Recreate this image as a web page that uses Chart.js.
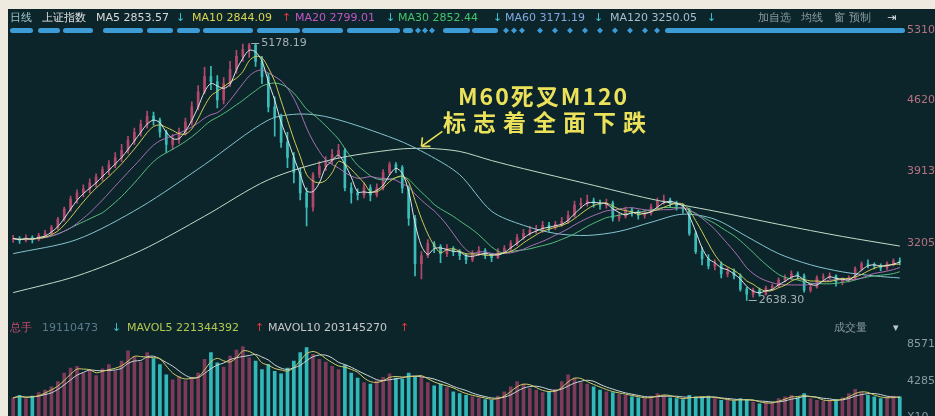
<!DOCTYPE html>
<html>
<head>
<meta charset="utf-8">
<script src="https://cdn.jsdelivr.net/npm/chart.js@4.4.0/dist/chart.umd.min.js"></script>
<style>
html, body { margin: 0; padding: 0; width: 935px; height: 416px; overflow: hidden; background: #efeadf; }
#panel { position: absolute; left: 8px; top: 9px; width: 927px; height: 420px; background: #0c252b; }
#priceBox { position: absolute; left: 0; top: 0; width: 935px; height: 326px; }
#volBox { position: absolute; left: 0; top: 330px; width: 935px; height: 98px; }
.hdr { position: absolute; font: 11px "DejaVu Sans", sans-serif; white-space: nowrap; line-height: 13px; }
.note { position: absolute; color: #ebe15a; font: bold 23px "Noto Sans CJK SC", sans-serif; line-height: 26px; white-space: nowrap; }
</style>
</head>
<body>
<div id="panel"></div>
<div id="priceBox"><canvas id="priceChart"></canvas></div>
<div id="volBox"><canvas id="volChart"></canvas></div>

<!-- price header -->
<span class="hdr" style="left:10px;top:11px;color:#9cc4cc">日线</span>
<span class="hdr" style="left:42px;top:11px;color:#e6e6e6">上证指数</span>
<span class="hdr" style="left:96px;top:11px;color:#d8d8d8">MA5 2853.57</span>
<span class="hdr" style="left:176px;top:11px;color:#3cc8d8">↓</span>
<span class="hdr" style="left:192px;top:11px;color:#dcd450">MA10 2844.09</span>
<span class="hdr" style="left:282px;top:11px;color:#e83838">↑</span>
<span class="hdr" style="left:295px;top:11px;color:#c456c4">MA20 2799.01</span>
<span class="hdr" style="left:386px;top:11px;color:#3cc8d8">↓</span>
<span class="hdr" style="left:398px;top:11px;color:#46c46a">MA30 2852.44</span>
<span class="hdr" style="left:493px;top:11px;color:#3cc8d8">↓</span>
<span class="hdr" style="left:505px;top:11px;color:#84a8e0">MA60 3171.19</span>
<span class="hdr" style="left:594px;top:11px;color:#3cc8d8">↓</span>
<span class="hdr" style="left:610px;top:11px;color:#a8bcd0">MA120 3250.05</span>
<span class="hdr" style="left:707px;top:11px;color:#3cc8d8">↓</span>
<span class="hdr" style="left:758px;top:11px;color:#8a9aa2">加自选</span>
<span class="hdr" style="left:801px;top:11px;color:#8a9aa2">均线</span>
<span class="hdr" style="left:834px;top:11px;color:#8a9aa2">窗</span>
<span class="hdr" style="left:849px;top:11px;color:#8a9aa2">预制</span>
<span class="hdr" style="left:887px;top:11px;color:#e0e6e8">⇥</span>

<!-- volume header -->
<span class="hdr" style="left:10px;top:321px;color:#c84a6a">总手</span>
<span class="hdr" style="left:42px;top:321px;color:#5a7a8c">19110473</span>
<span class="hdr" style="left:112px;top:321px;color:#3cc8d8">↓</span>
<span class="hdr" style="left:127px;top:321px;color:#b4c850">MAVOL5 221344392</span>
<span class="hdr" style="left:255px;top:321px;color:#e83838">↑</span>
<span class="hdr" style="left:268px;top:321px;color:#c8c8c8">MAVOL10 203145270</span>
<span class="hdr" style="left:400px;top:321px;color:#e83838">↑</span>
<span class="hdr" style="left:834px;top:321px;color:#8a9aa2">成交量</span>
<span class="hdr" style="left:893px;top:321px;color:#c0c8cc">▾</span>

<!-- annotation -->
<div class="note" style="left:458px;top:82px;letter-spacing:2px">M60死叉M120</div>
<div class="note" style="left:443px;top:108px;letter-spacing:7px">标志着全面下跌</div>

<script>
// each bar = 2 trading days (Feb 2015 - Apr 2016, Shanghai Composite)
const daysPerBar = 2;

const closes = [
  3250, 3230, 3260, 3240, 3280, 3300, 3360, 3440, 3540, 3640,
  3700, 3740, 3800, 3860, 3930, 3980, 4050, 4120, 4220, 4300,
  4380, 4460, 4420, 4300, 4180, 4230, 4300, 4400, 4550, 4700,
  4850, 4800, 4620, 4780, 4920, 5050, 5120, 5160, 5000, 4850,
  4550, 4450, 4200, 4050, 3900, 3700, 3560, 3880, 3960, 4020,
  4080, 4120, 3750, 3700, 3680, 3750, 3680, 3750, 3900, 3980,
  3950, 3750, 3450, 3000, 3080, 3200, 3170, 3100, 3150, 3120,
  3080, 3040, 3100, 3130, 3080, 3060, 3120, 3150, 3200, 3260,
  3300, 3330, 3340, 3380, 3360, 3390, 3420, 3480, 3580, 3600,
  3620, 3600, 3580, 3600, 3450, 3470, 3530, 3510, 3480, 3500,
  3560, 3620, 3630, 3600, 3570, 3540, 3300, 3120, 3050, 2980,
  3000, 2900, 2920, 2880, 2750, 2700, 2740, 2700, 2760, 2780,
  2840, 2860, 2900, 2880, 2740, 2770, 2860, 2870, 2880, 2820,
  2840, 2860, 2950, 3000, 2990, 2980, 2960, 3000, 3030, 3020
];
const firstOpen = 3240;

const highs = [
  3280, 3270, 3285, 3275, 3300, 3330, 3380, 3460, 3560, 3670,
  3730, 3780, 3840, 3890, 3960, 4020, 4100, 4180, 4260, 4340,
  4420, 4510, 4500, 4440, 4320, 4280, 4340, 4440, 4600, 4760,
  4940, 4950, 4860, 4840, 5000, 5110, 5170, 5178.19, 5170, 5050,
  4880, 4650, 4480, 4300, 4100, 3950, 3750, 3900, 4010, 4060,
  4130, 4180, 4140, 3800, 3740, 3800, 3780, 3790, 3930, 4006,
  4000, 3970, 3770, 3480, 3120, 3240, 3220, 3190, 3190, 3170,
  3140, 3100, 3130, 3170, 3150, 3100, 3150, 3180, 3230, 3290,
  3340, 3370, 3380, 3420, 3410, 3420, 3460, 3520, 3620, 3650,
  3680, 3650, 3630, 3640, 3620, 3500, 3560, 3550, 3530, 3530,
  3590, 3650, 3680, 3650, 3620, 3590, 3550, 3320, 3160, 3090,
  3040, 3020, 2960, 2950, 2900, 2770, 2760, 2760, 2780, 2800,
  2860, 2890, 2930, 2920, 2900, 2800, 2880, 2900, 2910, 2890,
  2860, 2880, 2970, 3020, 3040, 3010, 3000, 3020, 3050, 3060
];

const lows = [
  3210, 3200, 3215, 3205, 3225, 3260, 3285, 3340, 3420, 3520,
  3600, 3660, 3700, 3760, 3820, 3880, 3950, 4010, 4090, 4180,
  4260, 4340, 4370, 4250, 4100, 4130, 4190, 4270, 4370, 4520,
  4680, 4720, 4540, 4580, 4750, 4880, 5000, 5040, 4950, 4780,
  4500, 4260, 4150, 3950, 3800, 3630, 3373, 3520, 3850, 3920,
  3990, 4040, 3720, 3600, 3630, 3650, 3620, 3660, 3730, 3880,
  3900, 3700, 3380, 2880, 2850, 3060, 3110, 3010, 3070, 3080,
  3040, 3000, 3020, 3080, 3050, 3020, 3050, 3100, 3130, 3180,
  3240, 3280, 3300, 3310, 3320, 3340, 3370, 3400, 3460, 3550,
  3570, 3560, 3540, 3550, 3420, 3420, 3450, 3470, 3440, 3450,
  3480, 3540, 3590, 3560, 3530, 3500, 3280, 3100, 2990, 2950,
  2940, 2860, 2870, 2850, 2730, 2638.30, 2670, 2680, 2690, 2740,
  2770, 2820, 2840, 2850, 2720, 2720, 2760, 2830, 2850, 2780,
  2790, 2820, 2840, 2930, 2960, 2950, 2930, 2940, 2980, 2990
];

// volume, axis units (x10)
const volumes = [
  2300, 2600, 2200, 2500, 2900, 3200, 3600, 4200, 5200, 5800,
  6000, 5200, 5600, 4900, 5700, 6200, 5400, 6600, 7800, 7100,
  6500, 7600, 6900, 6200, 5000, 4400, 4800, 4300, 4700, 5200,
  6800, 7600, 6400, 5900, 7200, 7900, 8300, 7000, 6600, 5600,
  6200, 5400, 5100, 5800, 6600, 7600, 8200, 7400, 6800, 6500,
  6000, 5600, 6100, 5200, 4600, 4100, 3900, 4300, 4700, 5100,
  4600, 4500, 5200, 4800, 4700, 4100, 3700, 3900, 3500, 3000,
  2800, 2600, 2400, 2300, 2100, 2000, 2500, 3000, 3600, 4200,
  3900, 3400, 3200, 2900, 3000, 3300, 4200, 5000, 4600, 4100,
  3900, 3600, 3200, 3000, 2900, 2700, 2600, 2400, 2300, 2200,
  2500, 2800, 2600, 2300, 2200, 2100, 2600, 2400, 2300, 2500,
  2200, 2000, 2100, 1900, 2200, 2100, 1800, 1600, 1700, 1800,
  2200, 2400, 2600, 2300, 2800, 2200, 2000, 1900, 2000, 2100,
  2300, 2800, 3300, 2900, 2600, 2400, 2200, 2300, 2500, 2400
];

// slow averages at selected bars
const ma60Idx = [0, 10, 20, 30, 40, 45, 50, 60, 65, 70, 75, 80, 85, 90, 95, 100, 105, 110, 115, 120, 125, 130, 135, 139];
const ma60Vals = [3100, 3240, 3560, 3980, 4420, 4480, 4440, 4230, 4080, 3880, 3520, 3380, 3300, 3280, 3320, 3410, 3490, 3440, 3270, 3100, 2990, 2920, 2880, 2860];
const ma120Idx = [0, 10, 20, 30, 40, 50, 60, 65, 70, 75, 80, 90, 100, 110, 120, 130, 139];
const ma120Vals = [2715, 2880, 3130, 3470, 3830, 4030, 4130, 4140, 4110, 4020, 3940, 3790, 3640, 3520, 3390, 3270, 3175];

const priceTicks = [3205, 3913, 4620, 5310];
const volTicks = [0, 4285, 8571];

const labels = closes.map((_, i) => String(i));
const opens = closes.map((c, i) => i === 0 ? firstOpen : closes[i - 1]);
const isUp = closes.map((c, i) => c >= opens[i]);

function movingAvg(vals, days) {
  const win = Math.round(days / daysPerBar);
  return vals.map((v, i) => {
    const seg = vals.slice(Math.max(0, i - win + 1), i + 1);
    return seg.reduce((a, b) => a + b, 0) / seg.length;
  });
}

const upColor = '#b4486c';
const downColor = '#3cbcb8';

const noteAnchor = { bar: 64, value: 4160 };

const decor = {
  id: 'decor',
  afterDraw(chart) {
    const { ctx, scales: { x, y } } = chart;
    ctx.save();
    // navigator strip
    ctx.fillStyle = '#3d9bd6';
    const segs = [[10, 33], [38, 60], [63, 93], [103, 143], [147, 173], [177, 200], [203, 253], [257, 300],
      [302, 343], [347, 400], [403, 413], [443, 470], [472, 498], [665, 905]];
    segs.forEach(([a, b]) => { ctx.beginPath(); ctx.roundRect(a, 28, b - a, 5, 2.5); ctx.fill(); });
    [418, 425, 432, 506, 514, 522, 540, 555, 570, 585, 600, 615, 630, 645, 657].forEach(d => {
      ctx.beginPath();
      ctx.moveTo(d, 27.5); ctx.lineTo(d + 3, 30.5); ctx.lineTo(d, 33.5); ctx.lineTo(d - 3, 30.5);
      ctx.fill();
    });
    // max / min labels
    ctx.font = '11px "DejaVu Sans", sans-serif';
    ctx.textBaseline = 'middle';
    ctx.fillStyle = '#a4b0b2';
    ctx.strokeStyle = '#a4b0b2';
    ctx.lineWidth = 1;
    const hi = highs.indexOf(Math.max(...highs));
    const lo = lows.indexOf(Math.min(...lows));
    [[hi, highs[hi]], [lo, lows[lo]]].forEach(([i, v]) => {
      const px = x.getPixelForValue(i), py = Math.round(y.getPixelForValue(v)) + 0.5;
      ctx.beginPath(); ctx.moveTo(px + 2, py); ctx.lineTo(px + 10, py); ctx.stroke();
      ctx.fillText(v.toFixed(2), px + 12, py);
    });
    // arrow toward the MA60 / MA120 cross
    const tx = x.getPixelForValue(noteAnchor.bar), ty = y.getPixelForValue(noteAnchor.value);
    ctx.strokeStyle = '#ebe15a';
    ctx.lineWidth = 1.6;
    ctx.beginPath();
    ctx.moveTo(tx + 21, ty - 15); ctx.lineTo(tx, ty);
    ctx.moveTo(tx, ty); ctx.lineTo(tx + 9, ty);
    ctx.moveTo(tx, ty); ctx.lineTo(tx + 1, ty - 9);
    ctx.stroke();
    ctx.restore();
  }
};

const lineDs = (label, data, color, order) => ({
  type: 'line', label, data, borderColor: color, borderWidth: 1,
  pointRadius: 0, tension: 0.3, order
});

new Chart(document.getElementById('priceChart'), {
  type: 'bar',
  data: {
    labels,
    datasets: [
      lineDs('MA5', movingAvg(closes, 5), '#dfe6e4', 0),
      lineDs('MA10', movingAvg(closes, 10), '#d2cc56', 0),
      lineDs('MA20', movingAvg(closes, 20), '#a870b4', 0),
      lineDs('MA30', movingAvg(closes, 30), '#58bc7c', 0),
      lineDs('MA60', ma60Idx.map((k, j) => ({ x: labels[k], y: ma60Vals[j] })), '#86c4d0', 0),
      lineDs('MA120', ma120Idx.map((k, j) => ({ x: labels[k], y: ma120Vals[j] })), '#c4dcc8', 0),
      {
        label: 'body', data: closes.map((c, i) => [opens[i], c]),
        backgroundColor: isUp.map(u => u ? upColor : downColor),
        barThickness: 2, grouped: false, borderWidth: 0, order: 1
      },
      {
        label: 'wick', data: closes.map((c, i) => [lows[i], highs[i]]),
        backgroundColor: isUp.map(u => u ? upColor : downColor),
        barThickness: 1, grouped: false, borderWidth: 0, order: 2
      }
    ]
  },
  options: {
    responsive: true,
    maintainAspectRatio: false,
    animation: false,
    events: [],
    layout: { padding: { left: 10, top: 30, right: 0, bottom: 8 } },
    plugins: { legend: { display: false }, tooltip: { enabled: false } },
    scales: {
      x: { display: false },
      y: {
        position: 'right', min: 2490, max: 5310,
        grid: { display: false, drawTicks: false }, border: { display: false },
        afterBuildTicks: s => { s.ticks = priceTicks.map(v => ({ value: v })); },
        afterFit: s => { s.width = 32; },
        ticks: {
          color: '#b87282', padding: 4, font: { size: 11, family: 'DejaVu Sans' },
          callback: v => String(v)
        }
      }
    }
  },
  plugins: [decor]
});

new Chart(document.getElementById('volChart'), {
  type: 'bar',
  data: {
    labels,
    datasets: [
      lineDs('MAVOL5', movingAvg(volumes, 5), '#d4cc68', 0),
      lineDs('MAVOL10', movingAvg(volumes, 10), '#ccd6d6', 0),
      {
        label: 'vol', data: volumes,
        backgroundColor: isUp.map(u => u ? '#7e3a58' : '#32b8b8'),
        barThickness: 3, borderWidth: 0, order: 1
      }
    ]
  },
  options: {
    responsive: true,
    maintainAspectRatio: false,
    animation: false,
    events: [],
    layout: { padding: { left: 10, top: 8, right: 0, bottom: 8 } },
    plugins: { legend: { display: false }, tooltip: { enabled: false } },
    scales: {
      x: { display: false },
      y: {
        position: 'right', min: 0, max: 9011,
        grid: { display: false, drawTicks: false }, border: { display: false },
        afterBuildTicks: s => { s.ticks = volTicks.map(v => ({ value: v })); },
        afterFit: s => { s.width = 32; },
        ticks: {
          color: '#8a9aa4', padding: 4, font: { size: 11, family: 'DejaVu Sans' },
          callback: v => v === 0 ? 'X10' : String(v)
        }
      }
    }
  }
});
</script>
</body>
</html>
